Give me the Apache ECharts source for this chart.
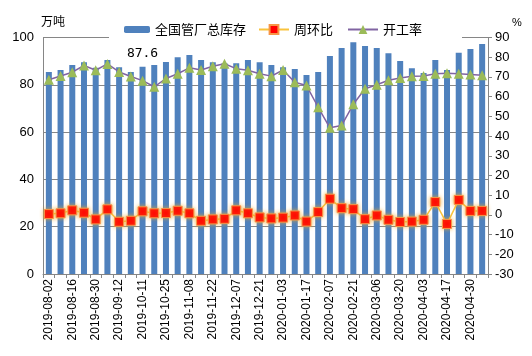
<!DOCTYPE html>
<html>
<head>
<meta charset="utf-8">
<script src="https://cdn.jsdelivr.net/npm/echarts@6/dist/echarts.min.js"></script>
<style>html,body{margin:0;padding:0;background:#fff}#c{width:532px;height:356px}</style>
</head>
<body>
<div id="c"></div>
<script>
const categories = ['2019-08-02','2019-08-09','2019-08-16','2019-08-23','2019-08-30','2019-09-06','2019-09-12','2019-09-27','2019-10-11','2019-10-18','2019-10-25','2019-11-01','2019-11-08','2019-11-15','2019-11-22','2019-11-29','2019-12-07','2019-12-13','2019-12-21','2019-12-27','2020-01-03','2020-01-10','2020-01-17','2020-01-23','2020-02-07','2020-02-14','2020-02-21','2020-02-28','2020-03-06','2020-03-13','2020-03-20','2020-03-27','2020-04-03','2020-04-10','2020-04-17','2020-04-24','2020-04-30','2020-05-08'];
const inventory = [85.4,86.3,88.4,89.5,87.2,90.5,87.4,85.4,87.6,88.4,89.6,91.6,92.6,90.5,89.5,89.1,89.1,90.5,89.5,88.4,87.4,86.7,84.1,85.4,92.2,95.6,98.0,96.4,95.6,93.3,90.1,87.0,85.0,90.5,86.3,93.5,95.1,97.3];
const weekChange = [0.4,0.8,2.3,1.1,-2.3,2.8,-3.5,-3.0,1.8,0.8,0.9,2.1,0.8,-3.0,-2.3,-2.0,2.3,0.8,-1.3,-1.8,-1.4,-0.3,-3.4,1.4,8.2,3.4,2.9,-2.2,-0.3,-2.5,-3.6,-3.4,-2.5,6.5,-4.6,7.6,2.0,2.0];
const operatingRate = [68.6,70.5,72.4,75.8,73.4,76.6,72.5,70.2,68.1,65.0,69.2,71.6,74.6,73.5,75.4,76.7,74.2,73.4,71.6,70.4,73.5,67.3,65.6,54.6,44.2,45.4,56.1,64.0,66.0,68.3,69.5,70.3,70.5,71.6,71.9,71.6,71.2,70.8];
const labelIndex = 8;
const leftTicks = [0,100,20];
const rightTicks = [-30,90,10];

const font = 'Liberation Sans, Arial, sans-serif';
const cjk = 'Noto Sans CJK SC, sans-serif';
const chart = echarts.init(document.getElementById('c'), null, {renderer:'canvas'});
chart.setOption({
  animation:false,
  backgroundColor:'#fff',
  grid:{left:43,right:44,top:37.5,bottom:82},
  legend:[
    {data:['全国管厂总库存'],left:109,top:17,padding:[6,8,6,15],backgroundColor:'#fff',
     itemWidth:26,itemHeight:7,textStyle:{fontFamily:cjk,fontSize:13,color:'#000'},itemGap:10},
    {data:['周环比','开工率'],left:250,top:17,padding:[6,40,6,8],backgroundColor:'#fff',
     itemWidth:30,itemHeight:11,itemGap:14,textStyle:{fontFamily:cjk,fontSize:13,color:'#000'}}
  ],
  xAxis:{type:'category',data:categories,
    axisLine:{lineStyle:{color:'#868686'}},
    axisTick:{show:true,alignWithLabel:false,interval:0,length:4,lineStyle:{color:'#868686'}},
    axisLabel:{interval:1,rotate:90,fontFamily:font,fontSize:12,color:'#000',margin:5}},
  yAxis:[
    {type:'value',min:leftTicks[0],max:leftTicks[1],interval:leftTicks[2],name:'万吨',
     nameLocation:'end',nameGap:10,nameTextStyle:{fontFamily:cjk,fontSize:12,color:'#000',align:'left',padding:[0,0,0,-2]},
     axisLine:{show:true,lineStyle:{color:'#868686'}},axisTick:{show:false},
     axisLabel:{fontFamily:font,fontSize:13,color:'#000',margin:9},
     splitLine:{lineStyle:{color:'#868686'}}},
    {type:'value',min:rightTicks[0],max:rightTicks[1],interval:rightTicks[2],name:'%',
     nameLocation:'end',nameGap:9,nameTextStyle:{fontFamily:font,fontSize:11,color:'#000',align:'left',padding:[0,0,0,24]},
     axisLine:{show:true,lineStyle:{color:'#868686'}},axisTick:{show:true,length:4,lineStyle:{color:'#868686'}},
     axisLabel:{fontFamily:font,fontSize:13,color:'#000',margin:7},
     splitLine:{show:false}}
  ],
  series:[
    {name:'全国管厂总库存',type:'bar',data:inventory.map((v,i)=>i===labelIndex?{value:v,label:{show:true,position:'top',distance:7,formatter:'{c}',fontFamily:'DejaVu Sans Mono, monospace',fontSize:13,color:'#000'}}:v),
     barWidth:6,itemStyle:{color:'#4F81BD'},z:1},
    {name:'周环比',type:'line',yAxisIndex:1,data:weekChange,symbol:'rect',symbolSize:9,showAllSymbol:true,
     lineStyle:{color:'#F9C33C',width:1.5},
     itemStyle:{color:'#FF0000',borderColor:'#F79646',borderWidth:1,shadowBlur:4,shadowColor:'rgba(240,170,40,0.8)'},z:3},
    {name:'开工率',type:'line',yAxisIndex:1,data:operatingRate,symbol:'triangle',symbolSize:10,showAllSymbol:true,
     lineStyle:{color:'#8064A2',width:1.5},
     itemStyle:{color:'#9BBB59',borderColor:'#9BBB59',borderWidth:0},z:4}
  ]
});
</script>
</body>
</html>
